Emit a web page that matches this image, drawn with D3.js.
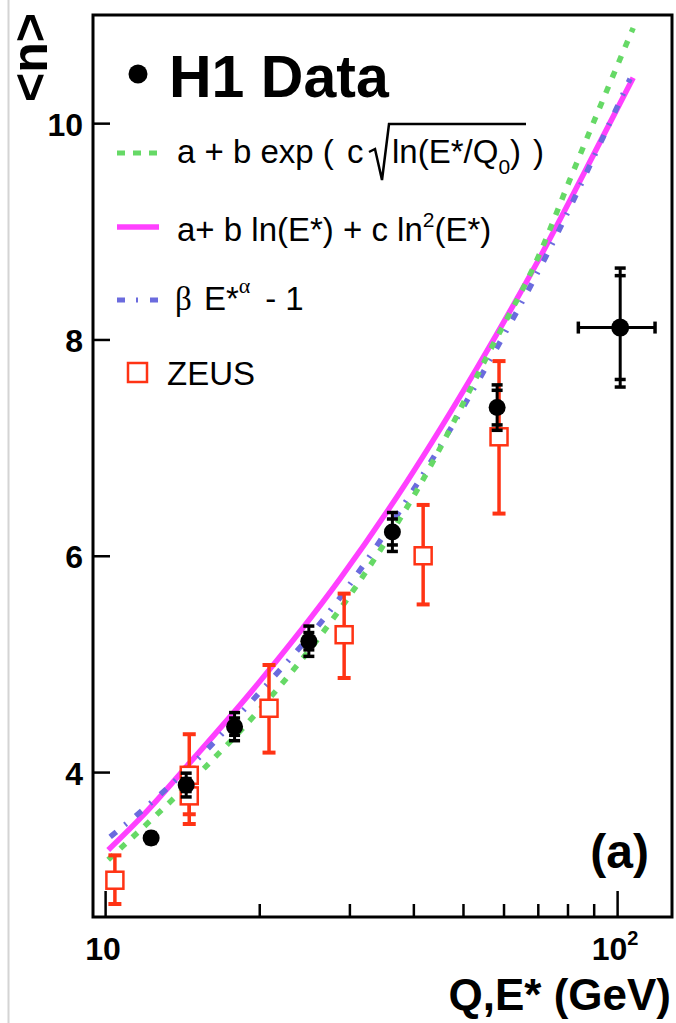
<!DOCTYPE html>
<html>
<head>
<meta charset="utf-8">
<script src="https://cdn.jsdelivr.net/npm/d3@7"></script>
<style>
  body { margin: 0; background: #fff; }
  svg { display: block; }
  text { font-family: "Liberation Sans", Arial, Helvetica, sans-serif; fill: #000; }
</style>
</head>
<body>
<div id="chart"></div>
<script>
// H1 data points (mean multiplicity vs E*)
var h1E    = [12.3, 14.4, 17.9, 25.0, 36.4, 58.3];
var h1N    = [3.39, 3.88, 4.42, 5.21, 6.22, 7.37];
var h1Stat = [0.03, 0.06, 0.08, 0.08, 0.12, 0.16];
var h1Tot  = [0.05, 0.11, 0.13, 0.14, 0.18, 0.21];

// reference point showing typical errors
var refE = [101.4], refN = [8.11];
var refELow = [84.0], refEHigh = [118.6];
var refStat = [0.48], refTot = [0.55];

// ZEUS points
var zeusQ  = [10.45, 14.6, 14.6, 20.9, 29.3, 41.8, 58.8];
var zeusN  = [3.00, 3.97, 3.78, 4.59, 5.27, 6.00, 7.10];
var zeusUp = [0.23, 0.38, 0.26, 0.40, 0.38, 0.47, 0.70];
var zeusDn = [0.22, 0.36, 0.26, 0.41, 0.40, 0.45, 0.71];

// fit curves
var expE = [10.14, 15.5, 19.8, 28.4, 32.2, 40.7, 56.5, 70.7, 80.9, 93.9, 107.5];
var expN = [3.19, 4.02, 4.55, 5.47, 5.84, 6.61, 7.90, 8.80, 9.48, 10.22, 10.88];

var lnE = [10.14, 11.86, 14.66, 19.2, 28.8, 38.9, 53.3, 70.7, 93.9, 107.5];
var lnN = [3.28, 3.60, 4.09, 4.73, 5.79, 6.69, 7.74, 8.76, 9.88, 10.42];

var powE = [10.23, 12.8, 15.75, 19.2, 27.8, 40.0, 55.7, 73.0, 93.9, 106.0];
var powN = [3.40, 3.79, 4.20, 4.64, 5.52, 6.61, 7.76, 8.79, 9.87, 10.41];

// axis ticks
var xMajor = [10, 100];
var xMinor = [20, 30, 40, 50, 60, 70, 80, 90];
var yTicks = [4, 6, 8, 10];

var green = "#66d966", pink = "#ff40ff", blue = "#6b6bde", red = "#ff3314";

var W = 676, H = 1023;
var frame = {left: 93, right: 672, top: 15, bottom: 917};

var svg = d3.select("#chart").append("svg")
  .attr("width", W)
  .attr("height", H);

svg.append("rect").attr("width", W).attr("height", H).attr("fill", "#fff");

// faint page border on the left
svg.append("line")
  .attr("x1", 8.5).attr("x2", 8.5).attr("y1", 0).attr("y2", H)
  .attr("stroke", "#d4d4d4").attr("stroke-width", 2);

var x = d3.scaleLog().domain([9.47, 128]).range([frame.left, frame.right]);
var y = d3.scaleLinear().domain([2.66, 11.0]).range([frame.bottom, frame.top]);

// Y axis (ticks inside)
var yAxis = svg.append("g")
  .attr("transform", "translate(" + frame.left + ",0)")
  .call(d3.axisLeft(y).tickValues(yTicks).tickSize(-17).tickPadding(10).tickFormat(d3.format("d")));
yAxis.select(".domain").remove();
yAxis.selectAll("line").attr("stroke", "#000").attr("stroke-width", 2.5);
yAxis.selectAll("text")
  .attr("dy", "0.38em")
  .style("font-family", "'Liberation Sans', Arial, sans-serif")
  .style("font-size", "32px").style("font-weight", "bold");

// X axis, major and minor ticks inside
var xAxisMaj = svg.append("g")
  .attr("transform", "translate(0," + frame.bottom + ")")
  .call(d3.axisBottom(x).tickValues(xMajor).tickSize(-26).tickFormat(""));
var xAxisMin = svg.append("g")
  .attr("transform", "translate(0," + frame.bottom + ")")
  .call(d3.axisBottom(x).tickValues(xMinor).tickSize(-13).tickFormat(""));
[xAxisMaj, xAxisMin].forEach(function(g) {
  g.select(".domain").remove();
  g.selectAll("line").attr("stroke", "#000").attr("stroke-width", 2.5);
});

// x tick labels
svg.append("text")
  .attr("x", x(10) - 2).attr("y", 960)
  .attr("text-anchor", "middle")
  .style("font-size", "32px").style("font-weight", "bold")
  .text("10");
var t100 = svg.append("text")
  .attr("x", x(100) - 2).attr("y", 960)
  .attr("text-anchor", "middle")
  .style("font-size", "32px").style("font-weight", "bold");
t100.append("tspan").text("10");
t100.append("tspan").attr("dy", -15).style("font-size", "20px").text("2");

// frame
svg.append("rect")
  .attr("x", frame.left).attr("y", frame.top)
  .attr("width", frame.right - frame.left).attr("height", frame.bottom - frame.top)
  .attr("fill", "none").attr("stroke", "#000").attr("stroke-width", 3);

// curves
function curvePts(es, ns) { return d3.zip(es, ns); }
var line = d3.line()
  .x(function(d) { return x(d[0]); })
  .y(function(d) { return y(d[1]); })
  .curve(d3.curveMonotoneX);

svg.append("path").datum(curvePts(lnE, lnN))
  .attr("d", line).attr("fill", "none")
  .attr("stroke", pink).attr("stroke-width", 5.5);

svg.append("path").datum(curvePts(powE, powN))
  .attr("d", line).attr("fill", "none")
  .attr("stroke", blue).attr("stroke-width", 5.5)
  .attr("stroke-dasharray", "8,11,2,12");

svg.append("path").datum(curvePts(expE, expN))
  .attr("d", line).attr("fill", "none")
  .attr("stroke", green).attr("stroke-width", 5.5)
  .attr("stroke-dasharray", "7,9.5");

// ZEUS points
var zeus = d3.range(zeusQ.length).map(function(i) {
  return {q: zeusQ[i], n: zeusN[i], up: zeusUp[i], dn: zeusDn[i]};
});
var zg = svg.append("g");
zeus.forEach(function(d) {
  var cx = x(d.q);
  zg.append("line")
    .attr("x1", cx).attr("x2", cx)
    .attr("y1", y(d.n + d.up)).attr("y2", y(d.n - d.dn))
    .attr("stroke", red).attr("stroke-width", 3.5);
  [d.n + d.up, d.n - d.dn].forEach(function(v) {
    zg.append("line")
      .attr("x1", cx - 6.5).attr("x2", cx + 6.5)
      .attr("y1", y(v)).attr("y2", y(v))
      .attr("stroke", red).attr("stroke-width", 4);
  });
});
zg.selectAll("rect.sq")
  .data(zeus).enter()
  .append("rect")
    .attr("class", "sq")
    .attr("x", function(d) { return x(d.q) - 8.5; })
    .attr("y", function(d) { return y(d.n) - 8.5; })
    .attr("width", 17).attr("height", 17)
    .attr("fill", "#fff").attr("stroke", red).attr("stroke-width", 2.5);

// H1 points
var h1 = d3.range(h1E.length).map(function(i) {
  return {e: h1E[i], n: h1N[i], stat: h1Stat[i], tot: h1Tot[i]};
});
var hg = svg.append("g");
function vErr(g, cx, n, stat, tot) {
  g.append("line")
    .attr("x1", cx).attr("x2", cx)
    .attr("y1", y(n + tot)).attr("y2", y(n - tot))
    .attr("stroke", "#000").attr("stroke-width", 3);
  [n + tot, n - tot, n + stat, n - stat].forEach(function(v) {
    g.append("line")
      .attr("x1", cx - 5.5).attr("x2", cx + 5.5)
      .attr("y1", y(v)).attr("y2", y(v))
      .attr("stroke", "#000").attr("stroke-width", 3.5);
  });
}
h1.forEach(function(d) { vErr(hg, x(d.e), d.n, d.stat, d.tot); });
hg.selectAll("circle")
  .data(h1).enter()
  .append("circle")
    .attr("cx", function(d) { return x(d.e); })
    .attr("cy", function(d) { return y(d.n); })
    .attr("r", 8.5).attr("fill", "#000");

// reference point with error cross
var rx = x(refE[0]), ry = y(refN[0]);
svg.append("line")
  .attr("x1", x(refELow[0])).attr("x2", x(refEHigh[0]))
  .attr("y1", ry).attr("y2", ry)
  .attr("stroke", "#000").attr("stroke-width", 3);
[refELow[0], refEHigh[0]].forEach(function(v) {
  svg.append("line")
    .attr("x1", x(v)).attr("x2", x(v))
    .attr("y1", ry - 6).attr("y2", ry + 6)
    .attr("stroke", "#000").attr("stroke-width", 3.5);
});
vErr(svg, rx, refN[0], refStat[0], refTot[0]);
svg.append("circle").attr("cx", rx).attr("cy", ry).attr("r", 9).attr("fill", "#000");

// legend
svg.append("circle").attr("cx", 138).attr("cy", 74).attr("r", 9.5).attr("fill", "#000");
svg.append("text")
  .attr("x", 169).attr("y", 97)
  .style("font-size", "59px").style("font-weight", "bold")
  .text("H1 Data");

svg.append("line")
  .attr("x1", 117).attr("x2", 159).attr("y1", 153).attr("y2", 153)
  .attr("stroke", green).attr("stroke-width", 5).attr("stroke-dasharray", "8,8");
svg.append("line")
  .attr("x1", 117).attr("x2", 159).attr("y1", 227).attr("y2", 227)
  .attr("stroke", pink).attr("stroke-width", 5.5);
svg.append("line")
  .attr("x1", 117).attr("x2", 158).attr("y1", 300).attr("y2", 300)
  .attr("stroke", blue).attr("stroke-width", 5).attr("stroke-dasharray", "8,11,2,12");
svg.append("rect")
  .attr("x", 128).attr("y", 363).attr("width", 19).attr("height", 19)
  .attr("fill", "#fff").attr("stroke", red).attr("stroke-width", 2.5);

var fs = "33px";
// entry 1: a + b exp ( c sqrt(ln(E*/Q0)) )
var l1 = svg.append("text").attr("y", 163).style("font-size", fs);
l1.append("tspan").attr("x", 177).text("a + b exp (");
l1.append("tspan").attr("x", 347).text("c");
svg.append("path")
  .attr("d", "M369,152 L375,149 L382,180 L389,124 L526,124")
  .attr("fill", "none").attr("stroke", "#000").attr("stroke-width", 2.5)
  .attr("stroke-linejoin", "miter");
var l1b = svg.append("text").attr("y", 163).style("font-size", fs);
l1b.append("tspan").attr("x", 392).text("ln(E*/Q");
l1b.append("tspan").attr("dy", 11).style("font-size", "21px").text("0");
l1b.append("tspan").attr("dy", -11).text(")");
l1b.append("tspan").attr("x", 533).text(")");

// entry 2: a+ b ln(E*) + c ln^2(E*)
var l2 = svg.append("text").attr("x", 177).attr("y", 241).style("font-size", fs);
l2.append("tspan").text("a+ b ln(E*) + c ln");
l2.append("tspan").attr("dy", -14).style("font-size", "21px").text("2");
l2.append("tspan").attr("dy", 14).text("(E*)");

// entry 3: beta E*^alpha - 1
var l3 = svg.append("text").attr("y", 310).style("font-size", fs);
l3.append("tspan").attr("x", 175).style("font-family", "'Liberation Serif', serif").text("\u03B2");
l3.append("tspan").attr("x", 204).text("E*");
l3.append("tspan").attr("dy", -17).style("font-size", "22px")
  .style("font-family", "'Liberation Serif', serif").text("\u03B1");
l3.append("tspan").attr("x", 256).attr("dy", 17).text(" - 1");

svg.append("text").attr("x", 167).attr("y", 385).style("font-size", fs).text("ZEUS");

// panel label
svg.append("text")
  .attr("x", 649).attr("y", 868)
  .attr("text-anchor", "end")
  .style("font-size", "48px").style("font-weight", "bold")
  .text("(a)");

// axis titles
svg.append("text")
  .attr("x", 671).attr("y", 1010)
  .attr("text-anchor", "end")
  .style("font-size", "44px").style("font-weight", "bold")
  .text("Q,E* (GeV)");

svg.append("text")
  .attr("transform", "translate(47,13) rotate(-90)")
  .attr("text-anchor", "end")
  .style("font-size", "50px").style("font-weight", "bold")
  .text("<n>");
</script>
</body>
</html>
